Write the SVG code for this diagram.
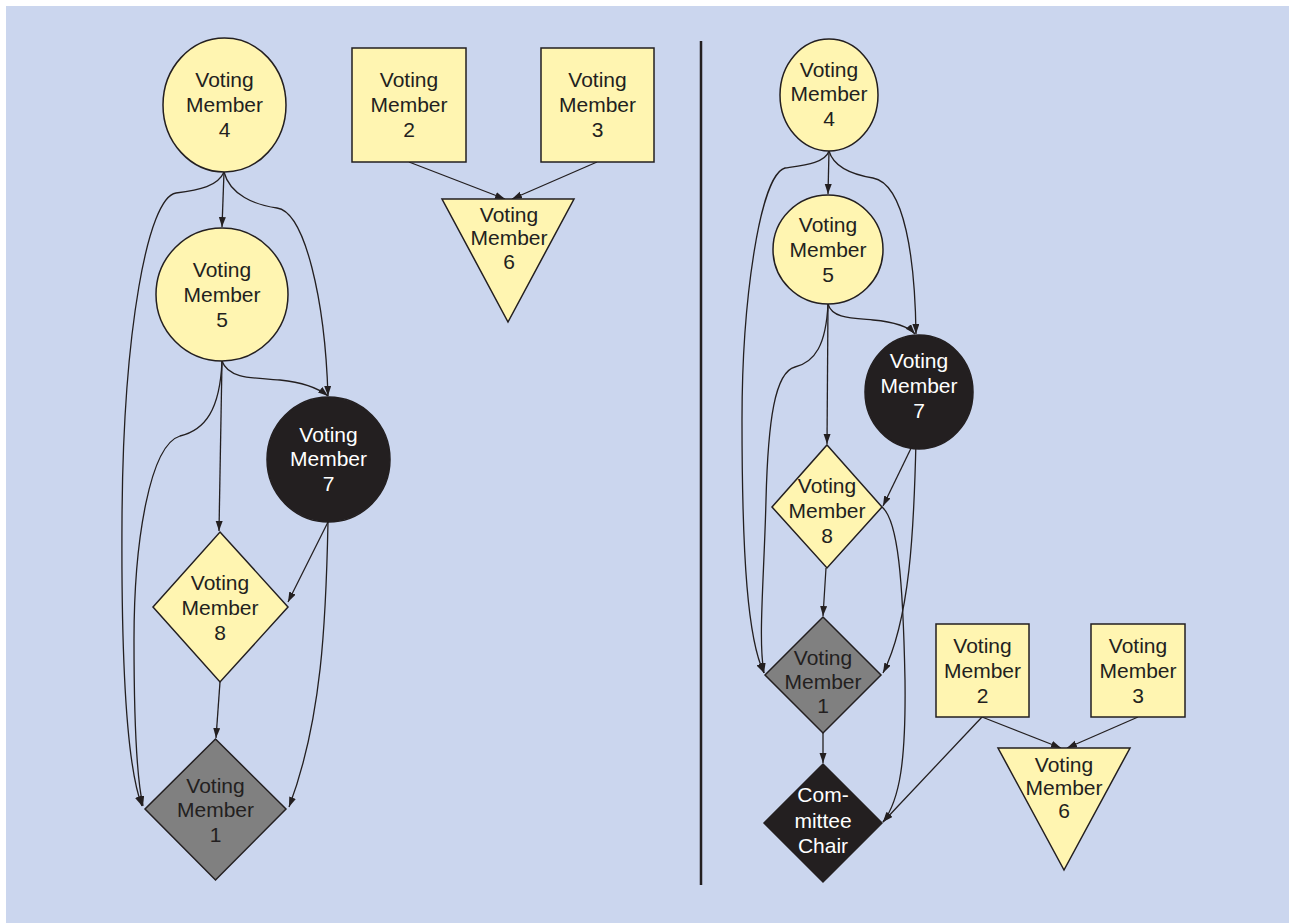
<svg xmlns="http://www.w3.org/2000/svg" width="1289" height="923" viewBox="0 0 1289 923">
<defs>
<marker id="arr" markerUnits="userSpaceOnUse" markerWidth="11" markerHeight="8" refX="10" refY="3.5" orient="auto">
<path d="M0,0 L10,3.5 L0,7 z" fill="#231f20"/>
</marker>
<style>
.bg{fill:#cbd6ee}
.y{fill:#fff5b1;stroke:#231f20;stroke-width:1.5}
.k{fill:#231f20;stroke:#231f20;stroke-width:1.5}
.g{fill:#808080;stroke:#231f20;stroke-width:1.5}
.e{fill:none;stroke:#231f20;stroke-width:1.3;marker-end:url(#arr)}
text{font-family:"Liberation Sans",Arial,sans-serif;font-size:21px;text-anchor:middle;fill:#231f20}
.w{fill:#ffffff}
</style>
</defs>
<rect x="0" y="0" width="1289" height="923" fill="#ffffff"/>
<rect class="bg" x="6" y="6" width="1283" height="917"/>
<line x1="701" y1="41" x2="701" y2="885" stroke="#231f20" stroke-width="2.5"/>

<g id="connectors">
<!-- left graph -->
<path class="e" d="M224,172 L222,227"/>
<path class="e" d="M224,172 C218,186 200,190 176,193 C148,197 123,330 122,520 C121,680 128,770 142,806"/>
<path class="e" d="M224,172 C230,195 255,205 277,208 C305,212 325,300 328,396"/>
<path class="e" d="M222,361 C220,410 205,430 180,436 C150,445 134,540 134,640 C134,720 137,780 143,806"/>
<path class="e" d="M222,361 L219,531"/>
<path class="e" d="M222,361 C228,378 250,378 280,380 C300,382 318,388 328,396"/>
<path class="e" d="M328,522 L288,602"/>
<path class="e" d="M328,522 C326,620 322,720 289,807"/>
<path class="e" d="M220,682 L216,738"/>
<path class="e" d="M409,162 L505,199"/>
<path class="e" d="M597,162 L512,199"/>
<!-- right graph -->
<path class="e" d="M829,151 L828,194"/>
<path class="e" d="M829,151 C825,163 805,165 785,168 C760,175 742,300 742,420 C742,560 748,640 764,673"/>
<path class="e" d="M829,151 C834,168 855,175 873,178 C905,184 915,260 916,334"/>
<path class="e" d="M828,304 C826,345 815,362 795,367 C775,372 768,420 766,500 C764,580 758,640 764,673"/>
<path class="e" d="M828,304 L827,444"/>
<path class="e" d="M828,304 C832,318 850,318 873,320 C895,322 908,326 915,334"/>
<path class="e" d="M916,438 L883,506"/>
<path class="e" d="M916,440 C914,530 910,620 883,673"/>
<path class="e" d="M882,507 C898,520 903,580 905,680 C906,760 900,800 883,822"/>
<path class="e" d="M826,568 L823,616"/>
<path class="e" d="M823,733 L823,763"/>
<path class="e" d="M982,717 L883,822"/>
<path class="e" d="M982,717 L1061,748"/>
<path class="e" d="M1138,717 L1067,748"/>
</g>

<!-- left graph nodes -->
<g id="L-vm4"><ellipse class="y" cx="224.5" cy="105" rx="61.5" ry="67"/>
<text x="224.5" y="87">Voting</text><text x="224.5" y="112">Member</text><text x="224.5" y="137">4</text></g>
<g id="L-vm5"><ellipse class="y" cx="222" cy="294.5" rx="66" ry="66.5"/>
<text x="222" y="277">Voting</text><text x="222" y="302">Member</text><text x="222" y="327">5</text></g>
<g id="L-vm7"><ellipse class="k" cx="328.5" cy="459.5" rx="61.5" ry="62.5"/>
<text class="w" x="328.5" y="442">Voting</text><text class="w" x="328.5" y="466">Member</text><text class="w" x="328.5" y="491">7</text></g>
<g id="L-vm8"><polygon class="y" points="220,532 288,607 220,682 153,607"/>
<text x="220" y="590">Voting</text><text x="220" y="615">Member</text><text x="220" y="640">8</text></g>
<g id="L-vm1"><polygon class="g" points="215.5,739 286,809 215.5,880 145,809"/>
<text x="215.5" y="793">Voting</text><text x="215.5" y="817">Member</text><text x="215.5" y="842">1</text></g>
<g id="L-vm2"><rect class="y" x="352" y="48" width="114" height="114"/>
<text x="409" y="87">Voting</text><text x="409" y="112">Member</text><text x="409" y="137">2</text></g>
<g id="L-vm3"><rect class="y" x="541" y="48" width="113" height="114"/>
<text x="597.5" y="87">Voting</text><text x="597.5" y="112">Member</text><text x="597.5" y="137">3</text></g>
<g id="L-vm6"><polygon class="y" points="442,199 574,199 508,322"/>
<text x="509" y="222">Voting</text><text x="509" y="245">Member</text><text x="509" y="269">6</text></g>

<!-- right graph nodes -->
<g id="R-vm4"><ellipse class="y" cx="829" cy="95" rx="49" ry="56"/>
<text x="829" y="77">Voting</text><text x="829" y="101">Member</text><text x="829" y="126">4</text></g>
<g id="R-vm5"><ellipse class="y" cx="828" cy="249.5" rx="55" ry="54.5"/>
<text x="828" y="232">Voting</text><text x="828" y="257">Member</text><text x="828" y="282">5</text></g>
<g id="R-vm7"><ellipse class="k" cx="919" cy="392" rx="54" ry="57"/>
<text class="w" x="919" y="368">Voting</text><text class="w" x="919" y="393">Member</text><text class="w" x="919" y="418">7</text></g>
<g id="R-vm8"><polygon class="y" points="827,445 882,507 827,568 772,507"/>
<text x="827" y="493">Voting</text><text x="827" y="518">Member</text><text x="827" y="543">8</text></g>
<g id="R-vm1"><polygon class="g" points="823,617 881,675 823,733 765,675"/>
<text x="823" y="665">Voting</text><text x="823" y="689">Member</text><text x="823" y="713">1</text></g>
<g id="R-chair"><polygon class="k" points="823,764 882,823 823,882 764,823"/>
<text class="w" x="823" y="802">Com-</text><text class="w" x="823" y="828">mittee</text><text class="w" x="823" y="853">Chair</text></g>
<g id="R-vm2"><rect class="y" x="936" y="624" width="93" height="93"/>
<text x="982.5" y="653">Voting</text><text x="982.5" y="678">Member</text><text x="982.5" y="703">2</text></g>
<g id="R-vm3"><rect class="y" x="1091" y="624" width="94" height="93"/>
<text x="1138" y="653">Voting</text><text x="1138" y="678">Member</text><text x="1138" y="703">3</text></g>
<g id="R-vm6"><polygon class="y" points="998,748 1130,748 1064,870"/>
<text x="1064" y="772">Voting</text><text x="1064" y="795">Member</text><text x="1064" y="818">6</text></g>
</svg>
